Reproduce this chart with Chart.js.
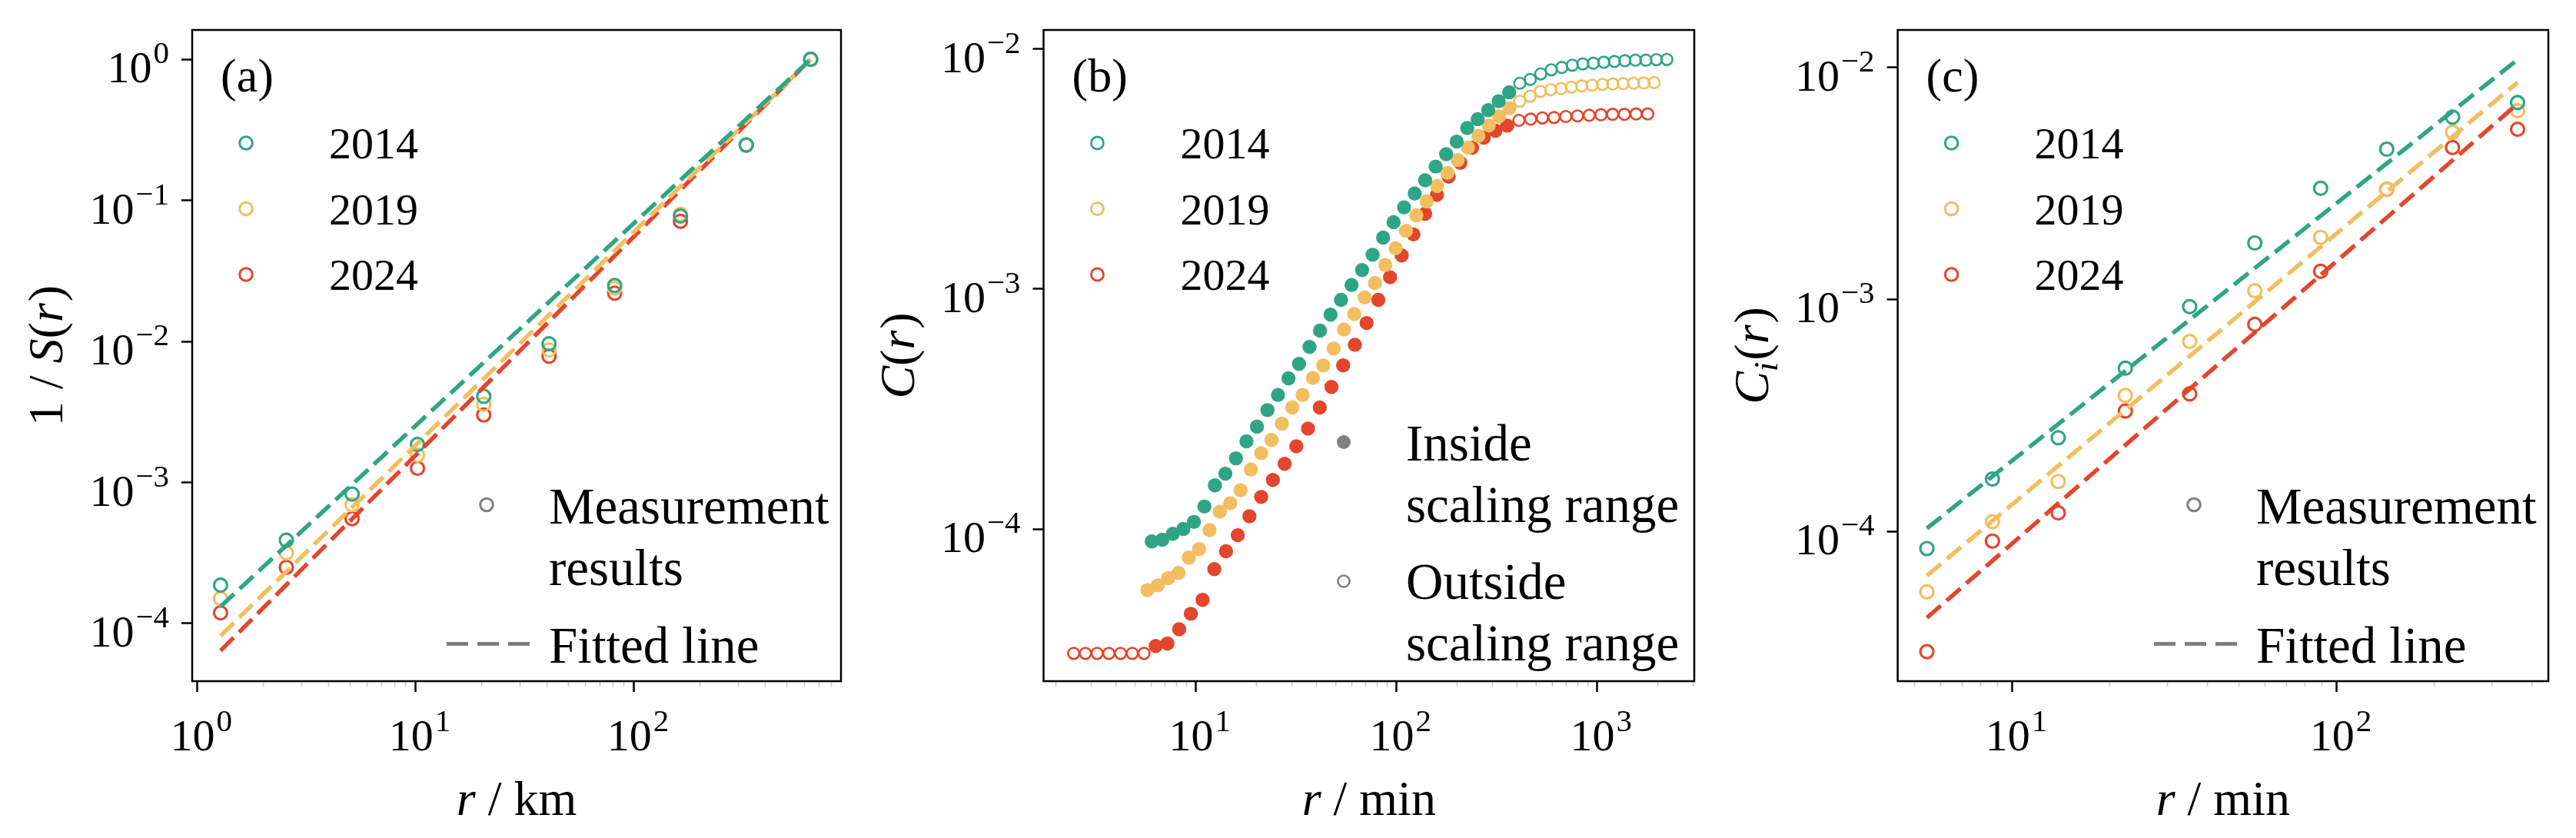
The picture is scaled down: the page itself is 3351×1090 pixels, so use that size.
<!DOCTYPE html>
<html><head><meta charset="utf-8">
<script src="https://cdn.jsdelivr.net/npm/chart.js@4.4.1/dist/chart.umd.min.js"></script>
<style>
html,body{margin:0;padding:0;background:#fff;}
body{width:3351px;height:1090px;position:relative;overflow:hidden;}
canvas{position:absolute;top:0;}
</style></head><body>
<canvas id="panelA" width="1117" height="1090" style="left:0px;width:1117px;height:1090px"></canvas>
<canvas id="panelB" width="1117" height="1090" style="left:1117px;width:1117px;height:1090px"></canvas>
<canvas id="panelC" width="1117" height="1090" style="left:2234px;width:1117px;height:1090px"></canvas>
<script>
// ================= DATA =================
const years = ['2014', '2019', '2024'];

// (a) 1/S(r) versus r (km)
const a_r      = [1.28, 2.56, 5.12, 10.2, 20.5, 40.8, 81.5, 163, 326, 643];
const a_S2014  = [1.87e-4, 3.90e-4, 8.27e-4, 1.86e-3, 4.08e-3, 9.62e-3, 2.49e-2, 7.74e-2, 0.247, 1.0];
const a_S2019  = [1.50e-4, 3.17e-4, 6.95e-4, 1.56e-3, 3.58e-3, 8.70e-3, 2.38e-2, 7.95e-2, 0.247, 1.0];
const a_S2024  = [1.19e-4, 2.50e-4, 5.53e-4, 1.26e-3, 3.01e-3, 7.86e-3, 2.20e-2, 7.10e-2, 0.247, 1.0];
const a_fitR   = [1.28, 643];
const a_fit2014 = [1.32e-4, 1.0];
const a_fit2019 = [8.18e-5, 1.0];
const a_fit2024 = [6.41e-5, 1.0];
const a_xTicks = [1, 10, 100];
const a_yTicks = [1e-4, 1e-3, 1e-2, 1e-1, 1];

// (b) C(r) versus r (min)
const b_r2014 = [6.04,6.81,7.69,8.67,9.79,11.04,12.46,14.05,15.86,17.89,20.18,22.77,25.69,28.98,32.70,36.89,41.62,46.96,52.98,59.77,67.43,76.08,85.83,96.83,109.2,123.3,139.1,156.9,177.0,199.7,225.3,254.2,286.8,323.5,365.0,411.8,464.6,524.2,591.4,667.2,752.7,849.2,958.1,1081,1220,1376,1552,1751,1976,2229];
const b_C2014 = [8.87e-5,9.02e-5,9.55e-5,1.00e-4,1.07e-4,1.24e-4,1.52e-4,1.70e-4,1.97e-4,2.32e-4,2.67e-4,3.13e-4,3.62e-4,4.25e-4,4.88e-4,5.74e-4,6.71e-4,7.82e-4,9.02e-4,1.04e-3,1.20e-3,1.39e-3,1.64e-3,1.90e-3,2.19e-3,2.50e-3,2.84e-3,3.24e-3,3.65e-3,4.12e-3,4.69e-3,5.11e-3,5.57e-3,6.07e-3,6.61e-3,7.21e-3,7.48e-3,7.89e-3,8.20e-3,8.39e-3,8.57e-3,8.68e-3,8.74e-3,8.82e-3,8.89e-3,8.95e-3,9.00e-3,9.00e-3,9.04e-3,9.06e-3];
const b_in2014 = [0, 34];
const b_r2019 = [5.745,6.469,7.284,8.202,9.235,10.40,11.71,13.18,14.85,16.72,18.82,21.19,23.86,26.87,30.26,34.07,38.36,43.20,48.64,54.77,61.67,69.44,78.19,88.04,99.14,111.6,125.7,141.5,159.4,179.5,202.1,227.5,256.2,288.5,324.8,365.7,411.8,463.7,522.1,587.9,662.0,745.4,839.3,945.1,1064,1198,1349,1519,1711,1926];
const b_C2019 = [5.56e-5,5.82e-5,6.24e-5,6.56e-5,7.60e-5,8.24e-5,9.89e-5,1.18e-4,1.28e-4,1.45e-4,1.77e-4,2.07e-4,2.35e-4,2.75e-4,3.21e-4,3.62e-4,4.26e-4,4.81e-4,5.65e-4,6.79e-4,7.87e-4,9.23e-4,1.06e-3,1.26e-3,1.48e-3,1.75e-3,2.03e-3,2.32e-3,2.69e-3,3.05e-3,3.45e-3,3.89e-3,4.35e-3,4.81e-3,5.25e-3,5.68e-3,6.07e-3,6.37e-3,6.67e-3,6.78e-3,6.85e-3,6.95e-3,7.03e-3,7.08e-3,7.13e-3,7.16e-3,7.19e-3,7.21e-3,7.23e-3,7.26e-3];
const b_in2019 = [0, 35];
const b_r2024 = [2.464,2.819,3.224,3.688,4.219,4.826,5.521,6.315,7.224,8.264,9.453,10.81,12.37,14.15,16.19,18.52,21.18,24.23,27.72,31.71,36.27,41.49,47.46,54.29,62.11,71.04,81.27,92.96,106.3,121.6,139.1,159.2,182.1,208.3,238.3,272.6,311.8,356.6,408.0,466.7,533.8,610.6,698.5,799.1,914.1,1046,1196,1368,1565,1790];
const b_C2024 = [3.03e-5,3.03e-5,3.03e-5,3.03e-5,3.03e-5,3.03e-5,3.03e-5,3.25e-5,3.33e-5,3.82e-5,4.43e-5,5.06e-5,6.80e-5,8.07e-5,9.42e-5,1.13e-4,1.36e-4,1.60e-4,1.87e-4,2.21e-4,2.62e-4,3.21e-4,3.91e-4,4.81e-4,5.86e-4,7.22e-4,9.02e-4,1.12e-3,1.38e-3,1.69e-3,2.06e-3,2.47e-3,2.94e-3,3.36e-3,3.88e-3,4.28e-3,4.57e-3,4.80e-3,5.05e-3,5.11e-3,5.17e-3,5.19e-3,5.24e-3,5.27e-3,5.30e-3,5.33e-3,5.35e-3,5.35e-3,5.37e-3,5.37e-3];
const b_in2024 = [7, 37];
const b_xTicks = [10, 100, 1000];
const b_yTicks = [1e-4, 1e-3, 1e-2];

// (c) Ci(r) versus r (min)
const c_r     = [5.45, 8.68, 13.85, 22.3, 35.2, 55.9, 89.2, 142.6, 227.5, 361];
const c_C2014 = [8.43e-5, 1.68e-4, 2.53e-4, 5.05e-4, 9.30e-4, 1.75e-3, 3.01e-3, 4.44e-3, 6.10e-3, 7.05e-3];
const c_C2019 = [5.48e-5, 1.10e-4, 1.64e-4, 3.85e-4, 6.58e-4, 1.09e-3, 1.85e-3, 2.98e-3, 5.26e-3, 6.50e-3];
const c_C2024 = [3.03e-5, 9.08e-5, 1.20e-4, 3.30e-4, 3.91e-4, 7.80e-4, 1.32e-3, 2.98e-3, 4.51e-3, 5.41e-3];
const c_fitR    = [5.45, 361];
const c_fit2014 = [1.03e-4, 1.08e-2];
const c_fit2019 = [6.44e-5, 8.62e-3];
const c_fit2024 = [4.24e-5, 6.97e-3];
const c_xTicks = [10, 100];
const c_yTicks = [1e-4, 1e-3, 1e-2];

// ================= STYLE / LAYOUT =================
const COLORS = ['#2FA585', '#F2BE60', '#E3462C'];
const GRAY = '#808080';
const SERIF = '"Liberation Serif", "Times New Roman", serif';
const TICK_LEN = 14;

function font(size, italic) { return (italic ? 'italic ' : '') + size + 'px ' + SERIF; }
function richWidth(ctx, parts) {
  let w = 0;
  for (const p of parts) { ctx.font = font(p.s, p.i); w += ctx.measureText(p.t).width + (p.k || 0); }
  return w;
}
function drawRich(ctx, parts, x, y, align) {
  const w = richWidth(ctx, parts);
  let cx = align === 'center' ? x - w / 2 : (align === 'right' ? x - w : x);
  ctx.textAlign = 'left'; ctx.textBaseline = 'alphabetic'; ctx.fillStyle = '#000';
  for (const p of parts) {
    ctx.font = font(p.s, p.i);
    ctx.fillText(p.t, cx, y + (p.dy || 0));
    cx += ctx.measureText(p.t).width + (p.k || 0);
  }
}
function powParts(v) {
  const e = Math.round(Math.log10(v));
  const s = e < 0 ? '\u2212' + (-e) : String(e);
  return [{t: '10', s: 58, k: 2}, {t: s, s: 41, dy: -25}];
}
function isMajor(v) { const l = Math.log10(v); return Math.abs(l - Math.round(l)) < 1e-6; }
function minorList(min, max) {
  const out = [];
  for (let e = Math.floor(Math.log10(min)); e <= Math.ceil(Math.log10(max)); e++) {
    for (let m = 1; m < 10; m++) { const v = m * Math.pow(10, e); if (v >= min && v <= max) out.push(v); }
  }
  return out;
}
function circle(ctx, x, y, r, col, filled, lw) {
  ctx.beginPath(); ctx.arc(x, y, r, 0, Math.PI * 2);
  if (filled) { ctx.fillStyle = col; ctx.fill(); }
  else { ctx.lineWidth = lw; ctx.strokeStyle = col; ctx.stroke(); }
}

function makePanel(cfg) {
  const lay = cfg.layout;
  const decorations = {
    id: 'decor',
    afterDraw(chart) {
      const ctx = chart.ctx, ca = chart.chartArea;
      const xs = chart.scales.x, ys = chart.scales.y;
      ctx.save();
      // frame
      ctx.lineWidth = 2.5; ctx.strokeStyle = '#000';
      ctx.strokeRect(ca.left, ca.top, ca.right - ca.left, ca.bottom - ca.top);
      // tick labels
      for (const v of cfg.xTicks) drawRich(ctx, powParts(v), xs.getPixelForValue(v) - 35, ca.bottom + 90, 'left');
      for (const v of cfg.yTicks) drawRich(ctx, powParts(v), ca.left - 30, ys.getPixelForValue(v) + 30, 'right');
      // axis titles
      drawRich(ctx, cfg.xTitle, (ca.left + ca.right) / 2, ca.bottom + 174, 'center');
      ctx.save();
      ctx.translate(ca.left - 169, (ca.top + ca.bottom) / 2);
      ctx.rotate(-Math.PI / 2);
      drawRich(ctx, cfg.yTitle, 0, 0, 'center');
      ctx.restore();
      // panel label
      drawRich(ctx, [{t: cfg.tag, s: 62}], ca.left + 37, ca.top + 80, 'left');
      // year legend
      for (let k = 0; k < 3; k++) {
        const my = ca.top + 147 + 85.5 * k;
        circle(ctx, ca.left + 70, my, cfg.legR, COLORS[k], false, cfg.legLW);
        drawRich(ctx, [{t: years[k], s: 58}], ca.left + 178, my + 20, 'left');
      }
      // lower legend
      if (cfg.kind === 'fit') {
        circle(ctx, ca.right - 461, 656.5, 8.3, GRAY, false, 3);
        drawRich(ctx, [{t: 'Measurement', s: 67}], ca.right - 380, 681, 'left');
        drawRich(ctx, [{t: 'results', s: 67}], ca.right - 380, 761, 'left');
        ctx.save();
        ctx.strokeStyle = GRAY; ctx.lineWidth = 5; ctx.setLineDash([28, 12]);
        ctx.beginPath(); ctx.moveTo(ca.right - 513, 837.5); ctx.lineTo(ca.right - 405, 837.5); ctx.stroke();
        ctx.restore();
        drawRich(ctx, [{t: 'Fitted line', s: 67}], ca.right - 380, 862, 'left');
      } else {
        circle(ctx, ca.right - 456, 575, 9, GRAY, true, 0);
        drawRich(ctx, [{t: 'Inside', s: 67}], ca.right - 375, 599, 'left');
        drawRich(ctx, [{t: 'scaling range', s: 67}], ca.right - 375, 679, 'left');
        circle(ctx, ca.right - 456, 756, 7.5, GRAY, false, 2.6);
        drawRich(ctx, [{t: 'Outside', s: 67}], ca.right - 375, 779, 'left');
        drawRich(ctx, [{t: 'scaling range', s: 67}], ca.right - 375, 859, 'left');
      }
      ctx.restore();
    }
  };
  const xMinor = minorList(cfg.xMin, cfg.xMax);
  const tickStyle = {
    drawOnChartArea: false, drawTicks: true, tickLength: TICK_LEN,
    tickColor: (c) => (c.tick && isMajor(c.tick.value)) ? '#000' : '#c4c4c4',
    tickWidth: (c) => (c.tick && isMajor(c.tick.value)) ? 2.5 : 1.6,
    tickBorderDash: (c) => (c.tick && isMajor(c.tick.value)) ? [] : [7, 60]
  };
  return new Chart(document.getElementById(cfg.canvas), {
    type: 'scatter',
    data: {datasets: cfg.datasets},
    options: {
      responsive: false, animation: false, devicePixelRatio: 1, events: [],
      layout: {padding: {
        left: lay.box.l - lay.left - TICK_LEN, right: lay.left + lay.width - lay.box.r,
        top: lay.box.t, bottom: 1090 - lay.box.b - TICK_LEN}},
      plugins: {legend: {display: false}, tooltip: {enabled: false}},
      scales: {
        x: {type: 'logarithmic', min: cfg.xMin, max: cfg.xMax,
            ticks: {display: false}, border: {display: false}, grid: tickStyle,
            afterBuildTicks: (s) => { s.ticks = xMinor.map(v => ({value: v})); }},
        y: {type: 'logarithmic', min: cfg.yMin, max: cfg.yMax,
            ticks: {display: false}, border: {display: false}, grid: tickStyle,
            afterBuildTicks: (s) => { s.ticks = cfg.yTicks.map(v => ({value: v})); }}
      }
    },
    plugins: [decorations]
  });
}

function pts(xArr, yArr) { return xArr.map((x, i) => ({x: x, y: yArr[i]})); }
function openSet(xArr, yArr, col, r, lw) {
  return {data: pts(xArr, yArr), showLine: false, pointRadius: r, pointBorderWidth: lw,
          pointBorderColor: col, pointBackgroundColor: 'rgba(255,255,255,0)', clip: false};
}
function fitSet(xArr, yArr, col) {
  return {data: pts(xArr, yArr), showLine: true, pointRadius: 0, borderColor: col,
          borderWidth: 5.5, borderDash: [24, 10], fill: false, clip: false};
}
function rangeSet(xArr, yArr, inside, col) {
  const isIn = (i) => i >= inside[0] && i <= inside[1];
  return {data: pts(xArr, yArr), showLine: false, clip: false,
          pointRadius: (c) => isIn(c.dataIndex) ? 9.2 : 7.3,
          pointBorderWidth: (c) => isIn(c.dataIndex) ? 0 : 2.6,
          pointBorderColor: col,
          pointBackgroundColor: (c) => isIn(c.dataIndex) ? col : 'rgba(255,255,255,0)'};
}

makePanel({
  canvas: 'panelA', tag: '(a)', kind: 'fit', legR: 8.3, legLW: 3,
  layout: {left: 0, width: 1117, box: {l: 250, r: 1094, t: 39, b: 886}},
  xMin: 0.949, xMax: 885, yMin: 3.9e-5, yMax: 1.615,
  xTicks: a_xTicks, yTicks: a_yTicks,
  xTitle: [{t: 'r', s: 64, i: true}, {t: ' / km', s: 64}],
  yTitle: [{t: '1 / ', s: 64}, {t: 'S', s: 64, i: true}, {t: '(', s: 64}, {t: 'r', s: 64, i: true, k: 2}, {t: ')', s: 64}],
  datasets: [
    fitSet(a_fitR, a_fit2014, COLORS[0]), fitSet(a_fitR, a_fit2019, COLORS[1]), fitSet(a_fitR, a_fit2024, COLORS[2]),
    openSet(a_r, a_S2014, COLORS[0], 8.5, 3.2), openSet(a_r, a_S2019, COLORS[1], 8.5, 3.2), openSet(a_r, a_S2024, COLORS[2], 8.5, 3.2)
  ]
});

makePanel({
  canvas: 'panelB', tag: '(b)', kind: 'range', legR: 8, legLW: 2.8,
  layout: {left: 1117, width: 1117, box: {l: 1357.5, r: 2204, t: 39, b: 886}},
  xMin: 1.743, xMax: 3052, yMin: 2.32e-5, yMax: 0.01202,
  xTicks: b_xTicks, yTicks: b_yTicks,
  xTitle: [{t: 'r', s: 64, i: true}, {t: ' / min', s: 64}],
  yTitle: [{t: 'C', s: 64, i: true}, {t: '(', s: 64}, {t: 'r', s: 64, i: true, k: 2}, {t: ')', s: 64}],
  datasets: [
    rangeSet(b_r2014, b_C2014, b_in2014, COLORS[0]),
    rangeSet(b_r2019, b_C2019, b_in2019, COLORS[1]),
    rangeSet(b_r2024, b_C2024, b_in2024, COLORS[2])
  ]
});

makePanel({
  canvas: 'panelC', tag: '(c)', kind: 'fit', legR: 8.3, legLW: 3,
  layout: {left: 2234, width: 1117, box: {l: 2468.6, r: 3315, t: 39, b: 886}},
  xMin: 4.43, xMax: 449, yMin: 2.26e-5, yMax: 0.01449,
  xTicks: c_xTicks, yTicks: c_yTicks,
  xTitle: [{t: 'r', s: 64, i: true}, {t: ' / min', s: 64}],
  yTitle: [{t: 'C', s: 64, i: true}, {t: 'i', s: 45, i: true, dy: 12, k: 2}, {t: '(', s: 64}, {t: 'r', s: 64, i: true, k: 2}, {t: ')', s: 64}],
  datasets: [
    fitSet(c_fitR, c_fit2014, COLORS[0]), fitSet(c_fitR, c_fit2019, COLORS[1]), fitSet(c_fitR, c_fit2024, COLORS[2]),
    openSet(c_r, c_C2014, COLORS[0], 8.5, 3.2), openSet(c_r, c_C2019, COLORS[1], 8.5, 3.2), openSet(c_r, c_C2024, COLORS[2], 8.5, 3.2)
  ]
});
</script>
</body></html>
